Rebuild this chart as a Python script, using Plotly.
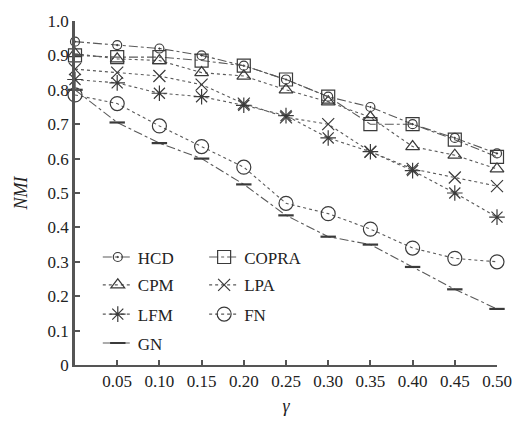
import plotly.graph_objects as go

gamma = [0.0, 0.05, 0.10, 0.15, 0.20, 0.25, 0.30, 0.35, 0.40, 0.45, 0.50]
hcd   = [0.94, 0.93, 0.92, 0.90, 0.87, 0.83, 0.78, 0.75, 0.70, 0.66, 0.615]
copra = [0.90, 0.895, 0.895, 0.885, 0.87, 0.83, 0.78, 0.70, 0.70, 0.655, 0.605]
cpm   = [0.905, 0.89, 0.885, 0.85, 0.84, 0.80, 0.765, 0.72, 0.635, 0.61, 0.57]
lpa   = [0.86, 0.85, 0.84, 0.815, 0.76, 0.72, 0.70, 0.62, 0.57, 0.545, 0.52]
lfm   = [0.83, 0.82, 0.79, 0.78, 0.755, 0.725, 0.66, 0.62, 0.565, 0.50, 0.43]
fn    = [0.785, 0.76, 0.695, 0.635, 0.575, 0.47, 0.44, 0.395, 0.34, 0.31, 0.30]
gn    = [0.80, 0.705, 0.645, 0.60, 0.525, 0.435, 0.373, 0.35, 0.285, 0.22, 0.163]

x_ticks = [0.05, 0.10, 0.15, 0.20, 0.25, 0.30, 0.35, 0.40, 0.45, 0.50]
x_tick_text = ["0.05", "0.10", "0.15", "0.20", "0.25", "0.30", "0.35", "0.40", "0.45", "0.50"]
y_ticks = [0, 0.1, 0.2, 0.3, 0.4, 0.5, 0.6, 0.7, 0.8, 0.9, 1.0]
y_tick_text = ["0", "0.1", "0.2", "0.3", "0.4", "0.5", "0.6", "0.7", "0.8", "0.9", "1.0"]

FONT = "'Liberation Serif', 'Times New Roman', Times, serif"
MC = "#3a3a3a"
LC = "#5a5a5a"

# name, values, symbol, size, dash, legend id, legend x, legend y (paper)
series = [
    ("HCD", hcd, "circle-open-dot", 9, "dashdot", "legend", 0.054, 0.365),
    ("CPM", cpm, "triangle-up-open", 12, "dot", "legend2", 0.054, 0.284),
    ("LFM", lfm, "asterisk-open", 13, "dot", "legend3", 0.054, 0.199),
    ("GN", gn, "line-ew-open", 11, "dashdot", "legend4", 0.054, 0.115),
    ("COPRA", copra, "square-open", 13, "dashdot", "legend5", 0.306, 0.365),
    ("LPA", lpa, "x-thin-open", 12, "dot", "legend6", 0.306, 0.284),
    ("FN", fn, "circle-open", 14, "dot", "legend7", 0.306, 0.199),
]

fig = go.Figure()
legends = {}
for name, vals, sym, size, dash, leg, lx, ly in series:
    fig.add_trace(go.Scatter(
        x=gamma, y=vals, name=name, mode="lines+markers",
        line=dict(color=LC, width=1.1, dash=dash),
        marker=dict(symbol=sym, size=size, color=MC,
                    line=dict(color=MC, width=2.2 if name == "GN" else 1.2)),
        cliponaxis=False, legend=leg,
    ))
    legends[leg] = dict(
        x=lx, y=ly, xanchor="left", yanchor="top",
        font=dict(family=FONT, size=17, color="#222"),
        bgcolor="rgba(0,0,0,0)", orientation="v",
    )

fig.update_layout(
    width=528, height=425,
    margin=dict(l=75, r=31, t=13, b=50),
    paper_bgcolor="white", plot_bgcolor="white",
    font=dict(family=FONT, size=17, color="#222"),
    showlegend=True,
    xaxis=dict(
        range=[0, 0.5], tickvals=x_ticks, ticktext=x_tick_text,
        ticks="inside", ticklen=5, tickcolor="#555", tickwidth=1.5,
        showline=True, linecolor="#555", linewidth=2,
        showgrid=False, zeroline=False,
        title=dict(text="<i>γ</i>", font=dict(family=FONT, size=18), standoff=9),
    ),
    yaxis=dict(
        range=[0, 1.0], tickvals=y_ticks, ticktext=y_tick_text,
        ticks="inside", ticklen=5, tickcolor="#555", tickwidth=1.5,
        showline=True, linecolor="#555", linewidth=2.5,
        showgrid=False, zeroline=False,
        title=dict(text="<i>NMI</i>", font=dict(family=FONT, size=18), standoff=16),
    ),
)
fig.update_layout(**legends)

fig.write_html("out.html")
